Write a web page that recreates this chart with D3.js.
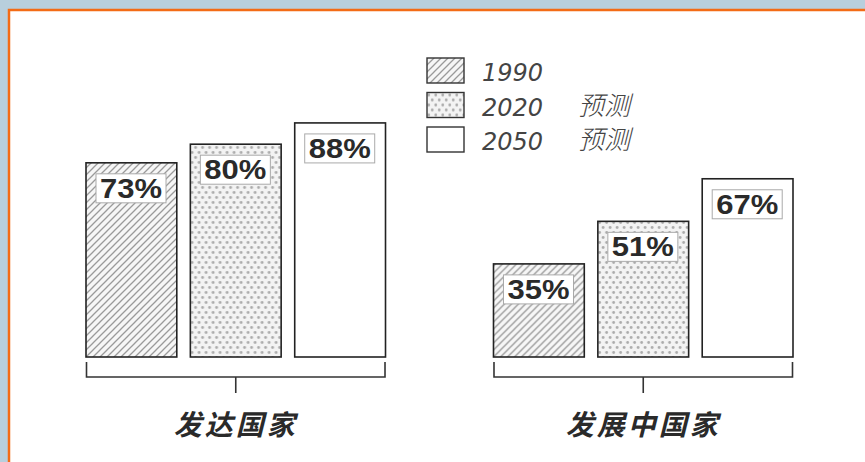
<!DOCTYPE html>
<html>
<head>
<meta charset="utf-8">
<script src="https://cdn.jsdelivr.net/npm/d3@7"></script>
<style>
  html, body { margin: 0; padding: 0; background: #b8cfdd; }
  svg { display: block; }
</style>
</head>
<body>
<div id="chart"></div>
<script>
// data
var groups = ['发达国家', '发展中国家'];
var seriesNames = ['1990', '2020', '2050'];
var seriesNotes = ['', '预测', '预测'];
var values1990 = [73, 35];
var values2020 = [80, 51];
var values2050 = [88, 67];

var seriesValues = [values1990, values2020, values2050];
var fills = ['url(#hatch)', 'url(#dots)', '#fff'];

var width = 865, height = 462;

var svg = d3.select('#chart')
    .append('svg')
    .attr('width', width)
    .attr('height', height);

var defs = svg.append('defs');

// diagonal hatch "/"
var hatch = defs.append('pattern')
    .attr('id', 'hatch')
    .attr('patternUnits', 'userSpaceOnUse')
    .attr('width', 7)
    .attr('height', 7);
hatch.append('rect').attr('width', 7).attr('height', 7).attr('fill', '#f6f6f6');
hatch.append('path')
    .attr('d', 'M-1,1 l2,-2 M0,7 l7,-7 M6,8 l2,-2')
    .attr('stroke', '#9a9a9a')
    .attr('stroke-width', 1.3);

// staggered dots
var dots = defs.append('pattern')
    .attr('id', 'dots')
    .attr('patternUnits', 'userSpaceOnUse')
    .attr('width', 7)
    .attr('height', 10);
dots.append('rect').attr('width', 7).attr('height', 10).attr('fill', '#f3f3f3');
dots.append('circle').attr('cx', 1.75).attr('cy', 2.5).attr('r', 1.4).attr('fill', '#ababab');
dots.append('circle').attr('cx', 5.25).attr('cy', 7.5).attr('r', 1.4).attr('fill', '#ababab');

// white panel with orange edge
svg.append('rect')
    .attr('x', 8).attr('y', 9)
    .attr('width', width).attr('height', height)
    .attr('fill', '#fff');
svg.append('path')
    .attr('d', 'M9,' + height + ' V10 H' + width)
    .attr('fill', 'none')
    .attr('stroke', '#f36b16')
    .attr('stroke-width', 2.5);

var x0 = d3.scaleBand()
    .domain(groups)
    .range([86, 793])
    .paddingInner(0.265)
    .paddingOuter(0);

var x1 = d3.scaleBand()
    .domain(seriesNames)
    .range([0, x0.bandwidth()])
    .paddingInner(0.13);

var y = d3.scaleLinear()
    .domain([0, 100])
    .range([357, 91]);

var rows = [];
groups.forEach(function(g, gi) {
    seriesNames.forEach(function(s, si) {
        rows.push({ group: g, series: s, si: si, value: seriesValues[si][gi] });
    });
});

var bars = svg.append('g')
    .selectAll('g')
    .data(rows)
    .enter()
    .append('g')
    .attr('transform', function(d) { return 'translate(' + (x0(d.group) + x1(d.series)) + ',0)'; });

bars.append('rect')
    .attr('x', 0)
    .attr('y', function(d) { return y(d.value); })
    .attr('width', x1.bandwidth())
    .attr('height', function(d) { return y(0) - y(d.value); })
    .attr('fill', function(d) { return fills[d.si]; })
    .attr('stroke', '#222')
    .attr('stroke-width', 1.6);

// value label boxes
bars.append('rect')
    .attr('x', 10)
    .attr('y', function(d) { return y(d.value) + 11; })
    .attr('width', 70)
    .attr('height', 29)
    .attr('fill', '#fff')
    .attr('stroke', '#aaa')
    .attr('stroke-width', 1);

bars.append('text')
    .attr('x', 14)
    .attr('y', function(d) { return y(d.value) + 35; })
    .attr('textLength', 62)
    .attr('lengthAdjust', 'spacingAndGlyphs')
    .attr('font-family', '"Liberation Sans", Arial, sans-serif')
    .attr('font-weight', 'bold')
    .attr('font-size', 27)
    .attr('fill', '#2a2a2a')
    .text(function(d) { return d.value + '%'; });

// brackets under each group
var axisY = 377;
svg.append('g')
    .selectAll('path')
    .data(groups)
    .enter()
    .append('path')
    .attr('d', function(g) {
        var a = x0(g) + 0.5, b = x0(g) + x0.bandwidth() - 0.5;
        return 'M' + a + ',' + (axisY - 15) + ' V' + axisY + ' H' + b + ' V' + (axisY - 15);
    })
    .attr('fill', 'none')
    .attr('stroke', '#333')
    .attr('stroke-width', 1.6);

var xAxis = d3.axisBottom(x0)
    .tickSize(16)
    .tickPadding(22);

var axisG = svg.append('g')
    .attr('transform', 'translate(0,' + axisY + ')')
    .call(xAxis);
axisG.select('.domain').remove();
axisG.selectAll('.tick line')
    .attr('stroke', '#333')
    .attr('stroke-width', 1.6);
axisG.selectAll('.tick text')
    .attr('font-family', '"Noto Sans CJK SC", sans-serif')
    .attr('font-weight', 'bold')
    .attr('font-style', 'italic')
    .attr('font-size', 28)
    .attr('letter-spacing', 3)
    .attr('fill', '#2a2a2a');

// legend
var legend = svg.append('g')
    .selectAll('g')
    .data(seriesNames)
    .enter()
    .append('g')
    .attr('transform', function(d, i) { return 'translate(427,' + (58 + i * 34.5) + ')'; });

legend.append('rect')
    .attr('width', 37)
    .attr('height', 25)
    .attr('fill', function(d, i) { return fills[i]; })
    .attr('stroke', '#333')
    .attr('stroke-width', 1.4);

legend.append('text')
    .attr('x', 55)
    .attr('y', 23)
    .attr('font-family', 'DejaVu Sans, sans-serif')
    .attr('font-style', 'italic')
    .attr('font-weight', 300)
    .attr('font-size', 24)
    .attr('fill', '#444')
    .text(function(d) { return d; });

legend.append('text')
    .attr('x', 151)
    .attr('y', 22)
    .attr('font-family', '"Noto Sans CJK SC", sans-serif')
    .attr('font-style', 'italic')
    .attr('font-weight', 300)
    .attr('font-size', 26)
    .attr('fill', '#444')
    .text(function(d, i) { return seriesNotes[i]; });
</script>
</body>
</html>
